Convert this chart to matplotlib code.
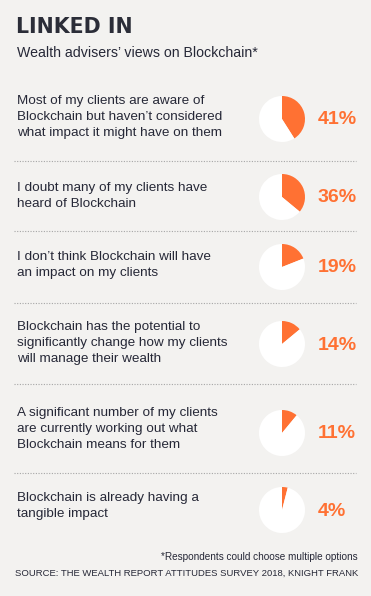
import matplotlib.pyplot as plt

# data
statements = [
    "Most of my clients are aware of\nBlockchain but haven\u2019t considered\nwhat impact it might have on them",
    "I doubt many of my clients have\nheard of Blockchain",
    "I don\u2019t think Blockchain will have\nan impact on my clients",
    "Blockchain has the potential to\nsignificantly change how my clients\nwill manage their wealth",
    "A significant number of my clients\nare currently working out what\nBlockchain means for them",
    "Blockchain is already having a\ntangible impact",
]
shares = [41, 36, 19, 14, 11, 4]

title = "LINKED IN"
subtitle = "Wealth advisers\u2019 views on Blockchain*"
footnote = "*Respondents could choose multiple options"
source = "SOURCE: THE WEALTH REPORT ATTITUDES SURVEY 2018, KNIGHT FRANK"

# layout (pixels from top)
W, H = 371, 596
text_y = [117, 196, 265, 343, 429, 506]
pie_y = [119, 197, 267, 344, 433, 510]
sep_y = [161, 231, 303, 384, 473]

BG = "#f3f2f0"
ORANGE = "#ff7133"
DARK = "#262837"
SANS = ["Liberation Sans", "DejaVu Sans"]

fig = plt.figure(figsize=(W / 100, H / 100), dpi=100, facecolor=BG)
ax = fig.add_axes([0, 0, 1, 1])
ax.set_facecolor(BG)


def Y(y):
    return H - y


ax.text(16, Y(27), title, fontsize=14.8, fontweight="bold", color="#2b2d38",
        family="DejaVu Sans", va="center", ha="left")
ax.text(17, Y(53), subtitle, fontsize=10.2, color=DARK, family=SANS,
        va="center", ha="left")

for i, (label, pct) in enumerate(zip(statements, shares)):
    ax.text(17, Y(text_y[i]), label, fontsize=9.7, color=DARK, family=SANS,
            va="center", ha="left", linespacing=1.45)
    ax.pie([pct, 100 - pct], colors=[ORANGE, "white"], startangle=90,
           counterclock=False, center=(282, Y(pie_y[i])), radius=23,
           wedgeprops=dict(linewidth=0))
    ax.text(318, Y(pie_y[i] + 1), f"{pct}%", fontsize=14, fontweight="bold",
            color=ORANGE, family=SANS, va="center", ha="left")

for y in sep_y:
    ax.plot([14, 356], [Y(y), Y(y)], color="#a5a5a5", linestyle=(0, (1, 1.4)),
            linewidth=0.8)

ax.text(358, Y(557), footnote, fontsize=7.2, color=DARK, family=SANS,
        va="center", ha="right")
ax.text(358, Y(573), source, fontsize=6.8, color=DARK, family=SANS,
        va="center", ha="right")

ax.set_xlim(0, W)
ax.set_ylim(0, H)
ax.set_aspect("auto")
ax.axis("off")

fig.savefig("out.png", dpi=100, facecolor=BG)
